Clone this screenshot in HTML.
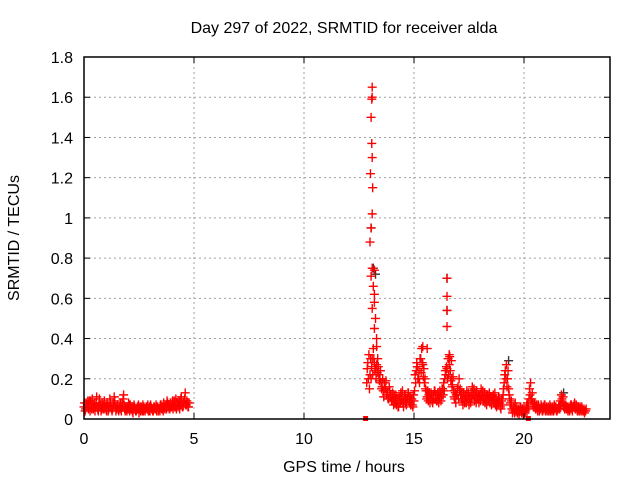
<!DOCTYPE html>
<html><head><meta charset="utf-8"><style>
body{margin:0;background:#fff;}
svg{display:block;font-family:"Liberation Sans",sans-serif;}
</style></head><body>
<svg id="chart" width="640" height="480">
<text x="344" y="33" text-anchor="middle" font-size="16">Day 297 of 2022, SRMTID for receiver alda</text>
<text x="344" y="472" text-anchor="middle" font-size="16">GPS time / hours</text>
<text transform="translate(19,238) rotate(-90)" text-anchor="middle" font-size="16">SRMTID / TECUs</text>
<g id="grid"></g><g id="marks"></g><g id="axes"></g>
</svg>
<script>
const xTicks=[0,5,10,15,20];
const yTicks=[0,0.2,0.4,0.6,0.8,1,1.2,1.4,1.6,1.8];
const yTickLabels=["0","0.2","0.4","0.6","0.8","1","1.2","1.4","1.6","1.8"];
const startA=0, stepA=0.05;
const valuesA=[0.06,0.04,0.08,0.07,0.05,0.09,0.09,0.05,0.07,0.06,0.04,0.08,0.06,0.04,0.10,0.07,0.05,0.06,0.07,0.05,
0.06,0.08,0.04,0.06,0.08,0.05,0.05,0.07,0.09,0.04,0.06,0.05,0.05,0.08,0.04,0.06,0.12,0.05,0.06,0.04,
0.05,0.07,0.07,0.05,0.04,0.06,0.06,0.04,0.05,0.05,0.03,0.06,0.06,0.04,0.04,0.05,0.05,0.06,0.07,0.04,
0.04,0.06,0.05,0.04,0.06,0.05,0.04,0.06,0.05,0.04,0.07,0.05,0.04,0.06,0.06,0.05,0.08,0.07,0.05,0.06,
0.06,0.05,0.09,0.06,0.05,0.08,0.07,0.05,0.10,0.07,0.06,0.09,0.13,0.07,0.08,0.06];
const valuesA2=[0.08,0.05,0.06,0.09,0.07,0.04,0.06,0.10,0.05,0.08,0.06,0.11,0.05,0.07,0.06,0.04,0.08,0.05,0.09,0.06,
0.04,0.07,0.05,0.10,0.06,0.04,0.08,0.11,0.06,0.05,0.07,0.04,0.06,0.05,0.08,0.10,0.07,0.04,0.05,0.06,
0.08,0.04,0.05,0.06,0.03,0.07,0.05,0.04,0.06,0.07,0.05,0.04,0.05,0.07,0.06,0.04,0.06,0.05,0.04,0.06,
0.07,0.05,0.04,0.06,0.05,0.07,0.06,0.04,0.05,0.07,0.05,0.06,0.08,0.05,0.07,0.09,0.06,0.05,0.08,0.06,
0.09,0.07,0.06,0.10,0.08,0.06,0.09,0.07,0.11,0.06,0.08,0.10,0.07,0.09,0.06,0.08];
const startB=12.85, stepB=0.05;
const valuesB=[0.18,0.28,0.32,0.22,
0.2,0.3,0.35,0.28,0.25,0.27,0.3,0.22,0.2,0.18,
0.16,0.14,0.18,0.15,0.12,0.13,0.1,0.14,0.12,0.09,
0.1,0.12,0.08,0.07,0.09,0.06,0.1,0.13,0.11,0.08,
0.09,0.12,0.07,0.1,0.13,0.08,0.07,0.1,0.06,0.09,
0.22,0.24,0.26,0.2,0.18,0.3,0.35,0.27,0.25,0.2,
0.14,0.11,0.09,0.13,0.1,0.12,0.08,0.1,0.14,0.12,
0.09,0.12,0.1,0.13,0.11,0.15,0.18,0.2,0.22,0.25,
0.3,0.27,0.24,0.2,0.17,0.14,0.1,0.08,0.12,0.16,
0.2,0.15,0.1,0.09,0.13,0.08,0.11,0.14,0.1,0.07,
0.1,0.13,0.16,0.12,0.09,0.11,0.14,0.1,0.08,0.12,
0.15,0.11,0.09,0.13,0.1,0.07,0.12,0.1,0.08,0.11,
0.09,0.12,0.1,0.07,0.06,0.09,0.11,0.08,0.05,0.1,
0.12,0.18,0.24,0.27,0.2,0.15,0.1,0.07,0.05,0.04,
0.05,0.08,0.04,0.03,0.05,0.04,0.06,0.03,0.04,0.05,
0.03,0.05,0.08,0.06,0.15,0.18,0.1,0.08,0.06,0.07,
0.06,0.05,0.07,0.04,0.05,0.06,0.04,0.05,0.07,0.05,
0.04,0.06,0.05,0.04,0.05,0.06,0.04,0.05,0.06,0.04,
0.05,0.07,0.09,0.12,0.08,0.06,0.05,0.07,0.05,0.04,
0.06,0.05,0.07,0.04,0.06,0.08,0.05,0.06,0.04,0.05,
0.06,0.04,0.05,0.04,0.03,0.04];
const valuesB2=[0.25,0.2,0.15,0.3,
0.26,0.22,0.3,0.24,0.2,0.23,0.26,0.19,0.24,0.15,
0.2,0.11,0.15,0.19,0.14,0.1,0.16,0.11,0.09,0.13,
0.07,0.09,0.12,0.1,0.06,0.11,0.08,0.09,0.14,0.06,
0.12,0.08,0.1,0.13,0.09,0.11,0.1,0.07,0.12,0.14,
0.18,0.28,0.2,0.24,0.3,0.23,0.28,0.21,0.18,0.15,
0.1,0.14,0.12,0.08,0.13,0.09,0.12,0.14,0.1,0.09,
0.13,0.08,0.14,0.09,0.15,0.12,0.14,0.24,0.26,0.2,
0.22,0.31,0.19,0.16,0.21,0.11,0.13,0.12,0.15,0.1,
0.14,0.12,0.13,0.07,0.1,0.12,0.08,0.1,0.13,0.11,
0.08,0.1,0.12,0.15,0.13,0.08,0.1,0.12,0.11,0.09,
0.12,0.14,0.1,0.08,0.12,0.11,0.09,0.13,0.11,0.07,
0.11,0.08,0.13,0.1,0.08,0.07,0.1,0.06,0.09,0.07,
0.15,0.22,0.2,0.16,0.24,0.12,0.08,0.09,0.03,0.06,
0.03,0.05,0.06,0.04,0.02,0.06,0.04,0.05,0.02,0.03,
0.04,0.07,0.05,0.1,0.12,0.09,0.13,0.06,0.08,0.05,
0.07,0.04,0.06,0.05,0.07,0.04,0.06,0.07,0.04,0.06,
0.05,0.04,0.07,0.06,0.04,0.05,0.07,0.06,0.04,0.05,
0.06,0.05,0.07,0.1,0.11,0.07,0.06,0.05,0.06,0.05,
0.04,0.07,0.05,0.06,0.07,0.05,0.07,0.04,0.06,0.04,
0.05,0.06,0.04,0.05,0.04,0.05];
const spikeTimes=[13.0,13.02,13.05,13.08,13.1,13.1,13.08,13.1,13.12,13.1,13.05,13.05,13.1,13.2,13.15,13.2,13.2,13.1,13.25,13.2,13.3,13.3,16.5,16.5,16.5,16.5,16.6,16.7,15.4,15.6];
const spikeValues=[0.88,1.22,1.50,1.59,1.65,1.60,1.37,1.30,1.15,1.02,0.95,0.71,0.75,0.74,0.66,0.62,0.58,0.55,0.50,0.45,0.40,0.36,0.70,0.61,0.54,0.46,0.32,0.29,0.36,0.35];
const blackTimes=[13.05,13.15,13.25,16.5,16.5,19.3,15.3,21.8];
const blackValues=[0.95,0.75,0.72,0.70,0.54,0.29,0.3,0.13];
const squareTimes=[12.8,20.2];
const squareValues=[0,0];

const X0=84,X1=610,Y0=419,Y1=57,XMAX=(X1-X0)/22,YMAX=1.8;
const sx=t=>X0+t/XMAX*(X1-X0);
const sy=v=>Y0-v/YMAX*(Y0-Y1);
const NS="http://www.w3.org/2000/svg";
function mk(tag,parent,attrs){const e=document.createElementNS(NS,tag);for(const k in attrs)e.setAttribute(k,attrs[k]);parent.appendChild(e);return e;}
const grid=document.getElementById('grid'),marks=document.getElementById('marks'),axes=document.getElementById('axes');
yTicks.forEach((v,i)=>{
  if(i>0&&i<yTicks.length-1){const l=mk('line',grid,{x1:X0,x2:X1,y1:sy(v),y2:sy(v),stroke:'#a0a0a0','stroke-dasharray':'2,3'});
  
  }
  const t=mk('text',axes,{x:X0-11,y:sy(v)+6,'text-anchor':'end','font-size':16});t.textContent=yTickLabels[i];
  
  
  mk('line',axes,{x1:X0,x2:X0+6,y1:sy(v),y2:sy(v),stroke:'#000'});
  mk('line',axes,{x1:X1,x2:X1-6,y1:sy(v),y2:sy(v),stroke:'#000'});
});
xTicks.forEach(v=>{
  if(v>0){const l=mk('line',grid,{x1:sx(v),x2:sx(v),y1:Y0,y2:Y1,stroke:'#a0a0a0','stroke-dasharray':'2,3'});
  
  }
  const t=mk('text',axes,{x:sx(v),y:Y0+25,'text-anchor':'middle','font-size':16});t.textContent=String(v);
  
  
  mk('line',axes,{x1:sx(v),x2:sx(v),y1:Y0,y2:Y0-6,stroke:'#000'});
  mk('line',axes,{x1:sx(v),x2:sx(v),y1:Y1,y2:Y1+6,stroke:'#000'});
});
const fr=mk('rect',axes,{x:X0,y:Y1,width:X1-X0,height:Y0-Y1,fill:'none',stroke:'#000','stroke-width':1.5});


function plus(t,v,col){const x=sx(t),y=sy(v);
  const p=mk('path',marks,{d:`M${x-4.5},${y}h9M${x},${y-4.5}v9`,stroke:col,'stroke-width':1.4,fill:'none'});
  
  }
blackTimes.forEach((t,i)=>plus(t,blackValues[i],'#333'));
valuesA.forEach((v,i)=>plus(startA+i*stepA,v,'#f00'));
valuesA2.forEach((v,i)=>plus(startA+0.025+i*stepA,v,'#f00'));
valuesB.forEach((v,i)=>plus(startB+i*stepB,v,'#f00'));
valuesB2.forEach((v,i)=>plus(startB+0.025+i*stepB,v,'#f00'));
spikeTimes.forEach((t,i)=>plus(t,spikeValues[i],'#f00'));
squareTimes.forEach((t,i)=>{const r=mk('rect',marks,{x:sx(t)-2.5,y:sy(squareValues[i])-3,width:5,height:5,fill:'#f00'});
  
  });
</script>
</body></html>
